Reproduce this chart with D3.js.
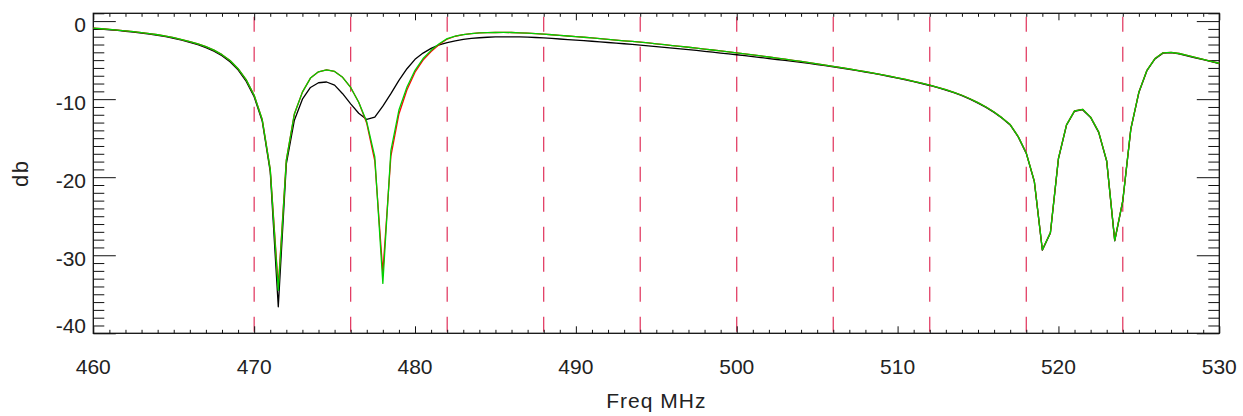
<!DOCTYPE html>
<html>
<head>
<meta charset="utf-8">
<script src="https://cdn.jsdelivr.net/npm/d3@7"></script>
<style>
  html, body { margin: 0; padding: 0; background: #fff; }
  svg { display: block; }
  text { font-family: "Liberation Sans", Arial, Helvetica, sans-serif; fill: #222; }
</style>
</head>
<body>
<script>
// ---- data ----
const freq = [460,460.5,461,461.5,462,462.5,463,463.5,464,464.5,465,465.5,466,466.5,467,467.5,468,468.5,469,469.5,
470,470.5,471,471.5,472,472.5,473,473.5,474,474.5,475,475.5,476,476.5,477,477.5,478,478.5,479,479.5,
480,480.5,481,481.5,482,482.5,483,483.5,484,484.5,485,485.5,486,486.5,487,487.5,488,488.5,489,489.5,
490,490.5,491,491.5,492,492.5,493,493.5,494,494.5,495,495.5,496,496.5,497,497.5,498,498.5,499,499.5,
500,500.5,501,501.5,502,502.5,503,503.5,504,504.5,505,505.5,506,506.5,507,507.5,508,508.5,509,509.5,
510,510.5,511,511.5,512,512.5,513,513.5,514,514.5,515,515.5,516,516.5,517,517.5,518,518.5,519,519.5,
520,520.5,521,521.5,522,522.5,523,523.5,524,524.5,525,525.5,526,526.5,527,527.5,528,528.5,529,529.5,530];

const dbGreen = [-0.90,-0.98,-1.06,-1.15,-1.25,-1.35,-1.47,-1.60,-1.75,-1.93,-2.13,-2.36,-2.62,-2.92,-3.28,-3.72,-4.30,-5.05,-6.10,-7.50,
-9.50,-12.6,-19.0,-34.5,-17.8,-11.9,-9.1,-7.3,-6.5,-6.25,-6.45,-7.2,-8.5,-10.4,-12.9,-17.4,-33.6,-16.6,-11.4,-8.45,
-6.3,-4.8,-3.75,-2.9,-2.25,-1.92,-1.72,-1.60,-1.52,-1.48,-1.46,-1.45,-1.46,-1.50,-1.55,-1.60,-1.67,-1.75,-1.83,-1.91,
-1.99,-2.07,-2.16,-2.25,-2.34,-2.43,-2.52,-2.61,-2.70,-2.80,-2.91,-3.02,-3.13,-3.24,-3.35,-3.46,-3.58,-3.70,-3.82,-3.94,
-4.06,-4.19,-4.32,-4.46,-4.60,-4.74,-4.88,-5.02,-5.17,-5.32,-5.48,-5.64,-5.80,-5.96,-6.13,-6.30,-6.48,-6.66,-6.85,-7.05,
-7.26,-7.48,-7.71,-7.95,-8.20,-8.48,-8.78,-9.12,-9.50,-9.95,-10.45,-11.0,-11.65,-12.4,-13.25,-14.8,-16.9,-20.5,-29.3,-27.1,
-17.6,-13.3,-11.5,-11.3,-12.3,-14.2,-17.9,-28.1,-23.0,-13.8,-9.1,-6.3,-4.8,-4.06,-4.0,-4.15,-4.4,-4.65,-4.9,-5.15,-5.4];

const dbRed = [-0.90,-0.98,-1.06,-1.15,-1.25,-1.35,-1.47,-1.60,-1.75,-1.93,-2.13,-2.36,-2.62,-2.92,-3.28,-3.72,-4.30,-5.05,-6.10,-7.50,
-9.50,-12.6,-19.0,-34.0,-17.8,-11.9,-9.1,-7.3,-6.5,-6.25,-6.45,-7.2,-8.5,-10.4,-13.1,-17.9,-32.2,-17.3,-11.9,-8.8,
-6.55,-5.0,-3.9,-3.0,-2.3,-1.94,-1.73,-1.60,-1.52,-1.48,-1.46,-1.45,-1.46,-1.50,-1.55,-1.60,-1.67,-1.75,-1.83,-1.91,
-1.99,-2.07,-2.16,-2.25,-2.34,-2.43,-2.52,-2.61,-2.70,-2.80,-2.91,-3.02,-3.13,-3.24,-3.35,-3.46,-3.58,-3.70,-3.82,-3.94,
-4.06,-4.19,-4.32,-4.46,-4.60,-4.74,-4.88,-5.02,-5.17,-5.32,-5.48,-5.64,-5.80,-5.96,-6.13,-6.30,-6.48,-6.66,-6.85,-7.05,
-7.26,-7.48,-7.71,-7.95,-8.20,-8.48,-8.78,-9.12,-9.50,-9.95,-10.45,-11.0,-11.65,-12.4,-13.25,-14.8,-16.9,-20.5,-29.3,-27.1,
-17.6,-13.3,-11.5,-11.3,-12.3,-14.2,-17.9,-28.1,-23.0,-13.8,-9.1,-6.3,-4.8,-4.06,-4.0,-4.15,-4.4,-4.65,-4.9,-5.15,-5.4];

const dbBlack = [-0.95,-1.03,-1.11,-1.20,-1.30,-1.41,-1.53,-1.67,-1.82,-2.00,-2.20,-2.44,-2.71,-3.02,-3.39,-3.84,-4.43,-5.20,-6.25,-7.70,
-9.70,-12.8,-19.3,-36.6,-18.3,-12.7,-10.0,-8.5,-7.9,-7.8,-8.2,-9.3,-10.6,-11.8,-12.6,-12.3,-10.9,-9.3,-7.6,-6.1,
-4.9,-4.1,-3.5,-3.05,-2.75,-2.52,-2.35,-2.22,-2.13,-2.07,-2.03,-2.01,-2.01,-2.03,-2.06,-2.10,-2.15,-2.22,-2.29,-2.36,
-2.43,-2.50,-2.58,-2.66,-2.74,-2.82,-2.90,-2.99,-3.08,-3.17,-3.26,-3.36,-3.46,-3.56,-3.66,-3.76,-3.87,-3.98,-4.09,-4.20,
-4.31,-4.43,-4.55,-4.67,-4.80,-4.92,-5.04,-5.16,-5.29,-5.42,-5.56,-5.71,-5.86,-6.01,-6.18,-6.35,-6.53,-6.71,-6.90,-7.10,
-7.31,-7.53,-7.76,-8.00,-8.25,-8.53,-8.83,-9.17,-9.55,-10.0,-10.5,-11.05,-11.7,-12.45,-13.3,-14.85,-16.95,-20.55,-29.35,-27.15,
-17.65,-13.35,-11.55,-11.35,-12.35,-14.25,-17.95,-28.15,-23.05,-13.85,-9.15,-6.35,-4.85,-4.1,-4.05,-4.2,-4.45,-4.7,-4.95,-5.2,-5.45];

const markerFreqs = [470,476,482,488,494,500,506,512,518,524];
const xMajorTicks = [460,470,480,490,500,510,520,530];
const xMinorTicks = [461,462,463,464,465,466,467,468,469,471,472,473,474,475,476,477,478,479,481,482,483,484,485,486,487,488,489,
491,492,493,494,495,496,497,498,499,501,502,503,504,505,506,507,508,509,511,512,513,514,515,516,517,518,519,521,522,523,524,525,526,527,528,529];
const yMajorTicks = [0,-10,-20,-30,-40];
const yMinorTicks = [1,-1,-2,-3,-4,-5,-6,-7,-8,-9,-11,-12,-13,-14,-15,-16,-17,-18,-19,-21,-22,-23,-24,-25,-26,-27,-28,-29,-31,-32,-33,-34,-35,-36,-37,-38,-39];
const xTitle = "Freq MHz";
const yTitle = "db";

// ---- layout ----
const W = 1243, H = 416;
const L = 93.3, R = 1219.3, T = 13.3, B = 333.3;

const svg = d3.select("body").append("svg").attr("width", W).attr("height", H);
const x = d3.scaleLinear().domain([460, 530]).range([L, R]);
const y = d3.scaleLinear().domain([-40, 1]).range([B, T]);

// dashed markers
svg.append("g").selectAll("line").data(markerFreqs).join("line")
  .attr("x1", d => x(d)).attr("x2", d => x(d))
  .attr("y1", T + 3.4).attr("y2", B)
  .attr("stroke", "#e0305a").attr("stroke-width", 1.2)
  .attr("stroke-dasharray", "15,15");

// axes ticks (inward)
function ax(gen, tx, ty, vals, size) {
  const g = svg.append("g").attr("transform", `translate(${tx},${ty})`)
    .call(gen.tickValues(vals).tickSize(-size).tickSizeOuter(0).tickFormat(""));
  g.select(".domain").remove();
  g.selectAll(".tick line").attr("stroke", "#111").attr("stroke-width", 1);
  return g;
}
ax(d3.axisBottom(x), 0, B, xMajorTicks, 7);
ax(d3.axisBottom(x), 0, B, xMinorTicks, 3.5);
ax(d3.axisTop(x), 0, T, xMajorTicks, 7);
ax(d3.axisTop(x), 0, T, xMinorTicks, 3.5);
ax(d3.axisLeft(y), L, 0, yMajorTicks, 22.5);
ax(d3.axisLeft(y), L, 0, yMinorTicks, 11);
ax(d3.axisRight(y), R, 0, yMajorTicks, 22.5);
ax(d3.axisRight(y), R, 0, yMinorTicks, 11);

// frame
svg.append("rect").attr("x", L).attr("y", T).attr("width", R - L).attr("height", B - T)
  .attr("fill", "none").attr("stroke", "#111").attr("stroke-width", 1.3);

// lines
const line = d3.line().x((d, i) => x(freq[i])).y(d => y(d));
const plot = svg.append("g");
[[dbBlack, "#000"], [dbRed, "#ff0000"], [dbGreen, "#00d000"]].forEach(([s, c]) => {
  plot.append("path").datum(s).attr("d", line).attr("fill", "none")
    .attr("stroke", c).attr("stroke-width", 1.3).attr("stroke-linejoin", "round");
});

// tick labels
svg.append("g").selectAll("text").data(xMajorTicks).join("text")
  .attr("x", d => x(d)).attr("y", 374).attr("text-anchor", "middle")
  .attr("font-size", 21).text(d => d);
svg.append("g").selectAll("text").data(yMajorTicks).join("text")
  .attr("x", 86).attr("y", d => Math.min(y(d) + 11, B)).attr("text-anchor", "end")
  .attr("font-size", 21).text(d => d);

// titles
svg.append("text").attr("x", (L + R) / 2).attr("y", 408).attr("text-anchor", "middle")
  .attr("font-size", 21).attr("letter-spacing", 1).text(xTitle);
svg.append("text").attr("transform", `translate(28,${(T + B) / 2}) rotate(-90)`)
  .attr("text-anchor", "middle").attr("font-size", 22).attr("letter-spacing", 1.5).text(yTitle);
</script>
</body>
</html>
